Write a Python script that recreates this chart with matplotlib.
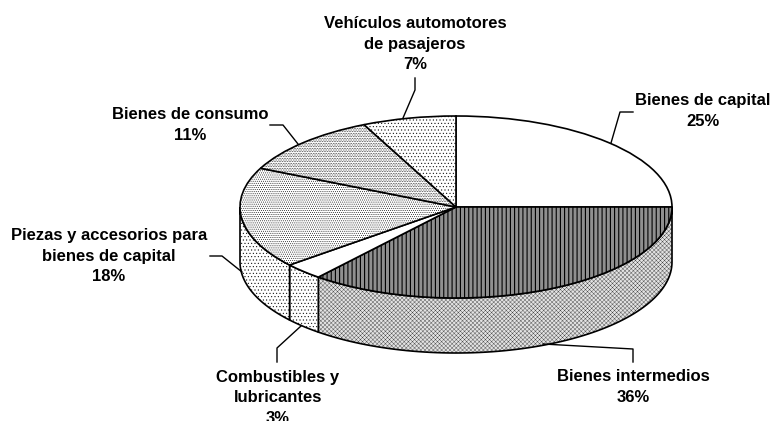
import matplotlib
matplotlib.use("Agg")
import matplotlib.pyplot as plt
from matplotlib.patches import Polygon
import numpy as np

plt.rcParams['font.family'] = ['Liberation Sans', 'DejaVu Sans']
plt.rcParams['hatch.linewidth'] = 0.35

names = ["Bienes de capital", "Bienes intermedios", "Combustibles y\nlubricantes",
         "Piezas y accesorios para\nbienes de capital", "Bienes de consumo",
         "Vehículos automotores\nde pasajeros"]
shares = [25, 36, 3, 18, 11, 7]

top_face = ['white', '#8f8f8f', 'white', 'white', 'white', 'white']
top_hatch = [None, '||||', None, '........', '..........', '.....']
side_face = ['white', '#e2e2e2', 'white', 'white', 'white', 'white']
side_hatch = [None, 'xxxxxxxx', '.....', '.....', None, None]

# label anchor (pixel centre of the text block) and leader lines, in image pixels
label_px = [(703, 111), (633, 387), (278, 398), (109, 256), (190, 125), (415, 44)]
leader_px = [[(611, 143), (620, 112), (633, 112)],
             [(543, 344), (633, 349), (633, 362)],
             [(301, 326), (277, 348), (277, 362)],
             [(242, 272), (222, 256), (210, 256)],
             [(298, 144), (283, 125), (270, 125)],
             [(403, 118), (415, 90), (415, 78)]]

W, H = 773, 421
cx, cy, rx, ry, depth = 456, 207, 216, 91, 55

fig = plt.figure(figsize=(W / 100, H / 100), dpi=100)
ax = fig.add_axes([0, 0, 1, 1])
d = depth / ry


def px(x, y):
    return (x - cx) / rx, (cy - y) / ry


wedges, _ = ax.pie(shares, startangle=90, counterclock=False, radius=1,
                   wedgeprops=dict(edgecolor='black', linewidth=1.2))
# one data unit is rx pixels across and ry pixels down, so the pie comes out flattened
ax.set_aspect('auto')
ax.set_xlim(-cx / rx, (W - cx) / rx)
ax.set_ylim(-(H - cy) / ry, cy / ry)
ax.axis('off')

for w, f, h in zip(wedges, top_face, top_hatch):
    w.set_facecolor(f)
    w.set_hatch(h)
    w.set_zorder(3)
wedges[1]._hatch_linewidth = 0.8

# side wall, only the part of each slice facing the viewer
start = 90.0
for s, h, f in zip(shares, side_hatch, side_face):
    end = start - s * 3.6
    a0, a1 = max(end, -180), min(start, 0)
    if a1 > a0:
        t = np.radians(np.linspace(a1, a0, 80))
        x, y = np.cos(t), np.sin(t)
        pts = np.r_[np.c_[x, y], np.c_[x[::-1], y[::-1] - d]]
        wall = Polygon(pts, closed=True, facecolor=f, edgecolor='black',
                       hatch=h, linewidth=1.2, zorder=2)
        if h == 'xxxxxxxx':
            wall._hatch_linewidth = 0.2
        ax.add_patch(wall)
    start = end

for name, s, (lx, ly), line in zip(names, shares, label_px, leader_px):
    tx, ty = px(lx, ly)
    ax.text(tx, ty, f"{name}\n{s}%", ha='center', va='center', fontsize=12,
            fontweight='bold', linespacing=1.45, zorder=5, clip_on=False)
    xs, ys = zip(*[px(*p) for p in line])
    ax.plot(xs, ys, color='black', lw=1.0, zorder=4, clip_on=False)

fig.savefig("out.png", dpi=100)
